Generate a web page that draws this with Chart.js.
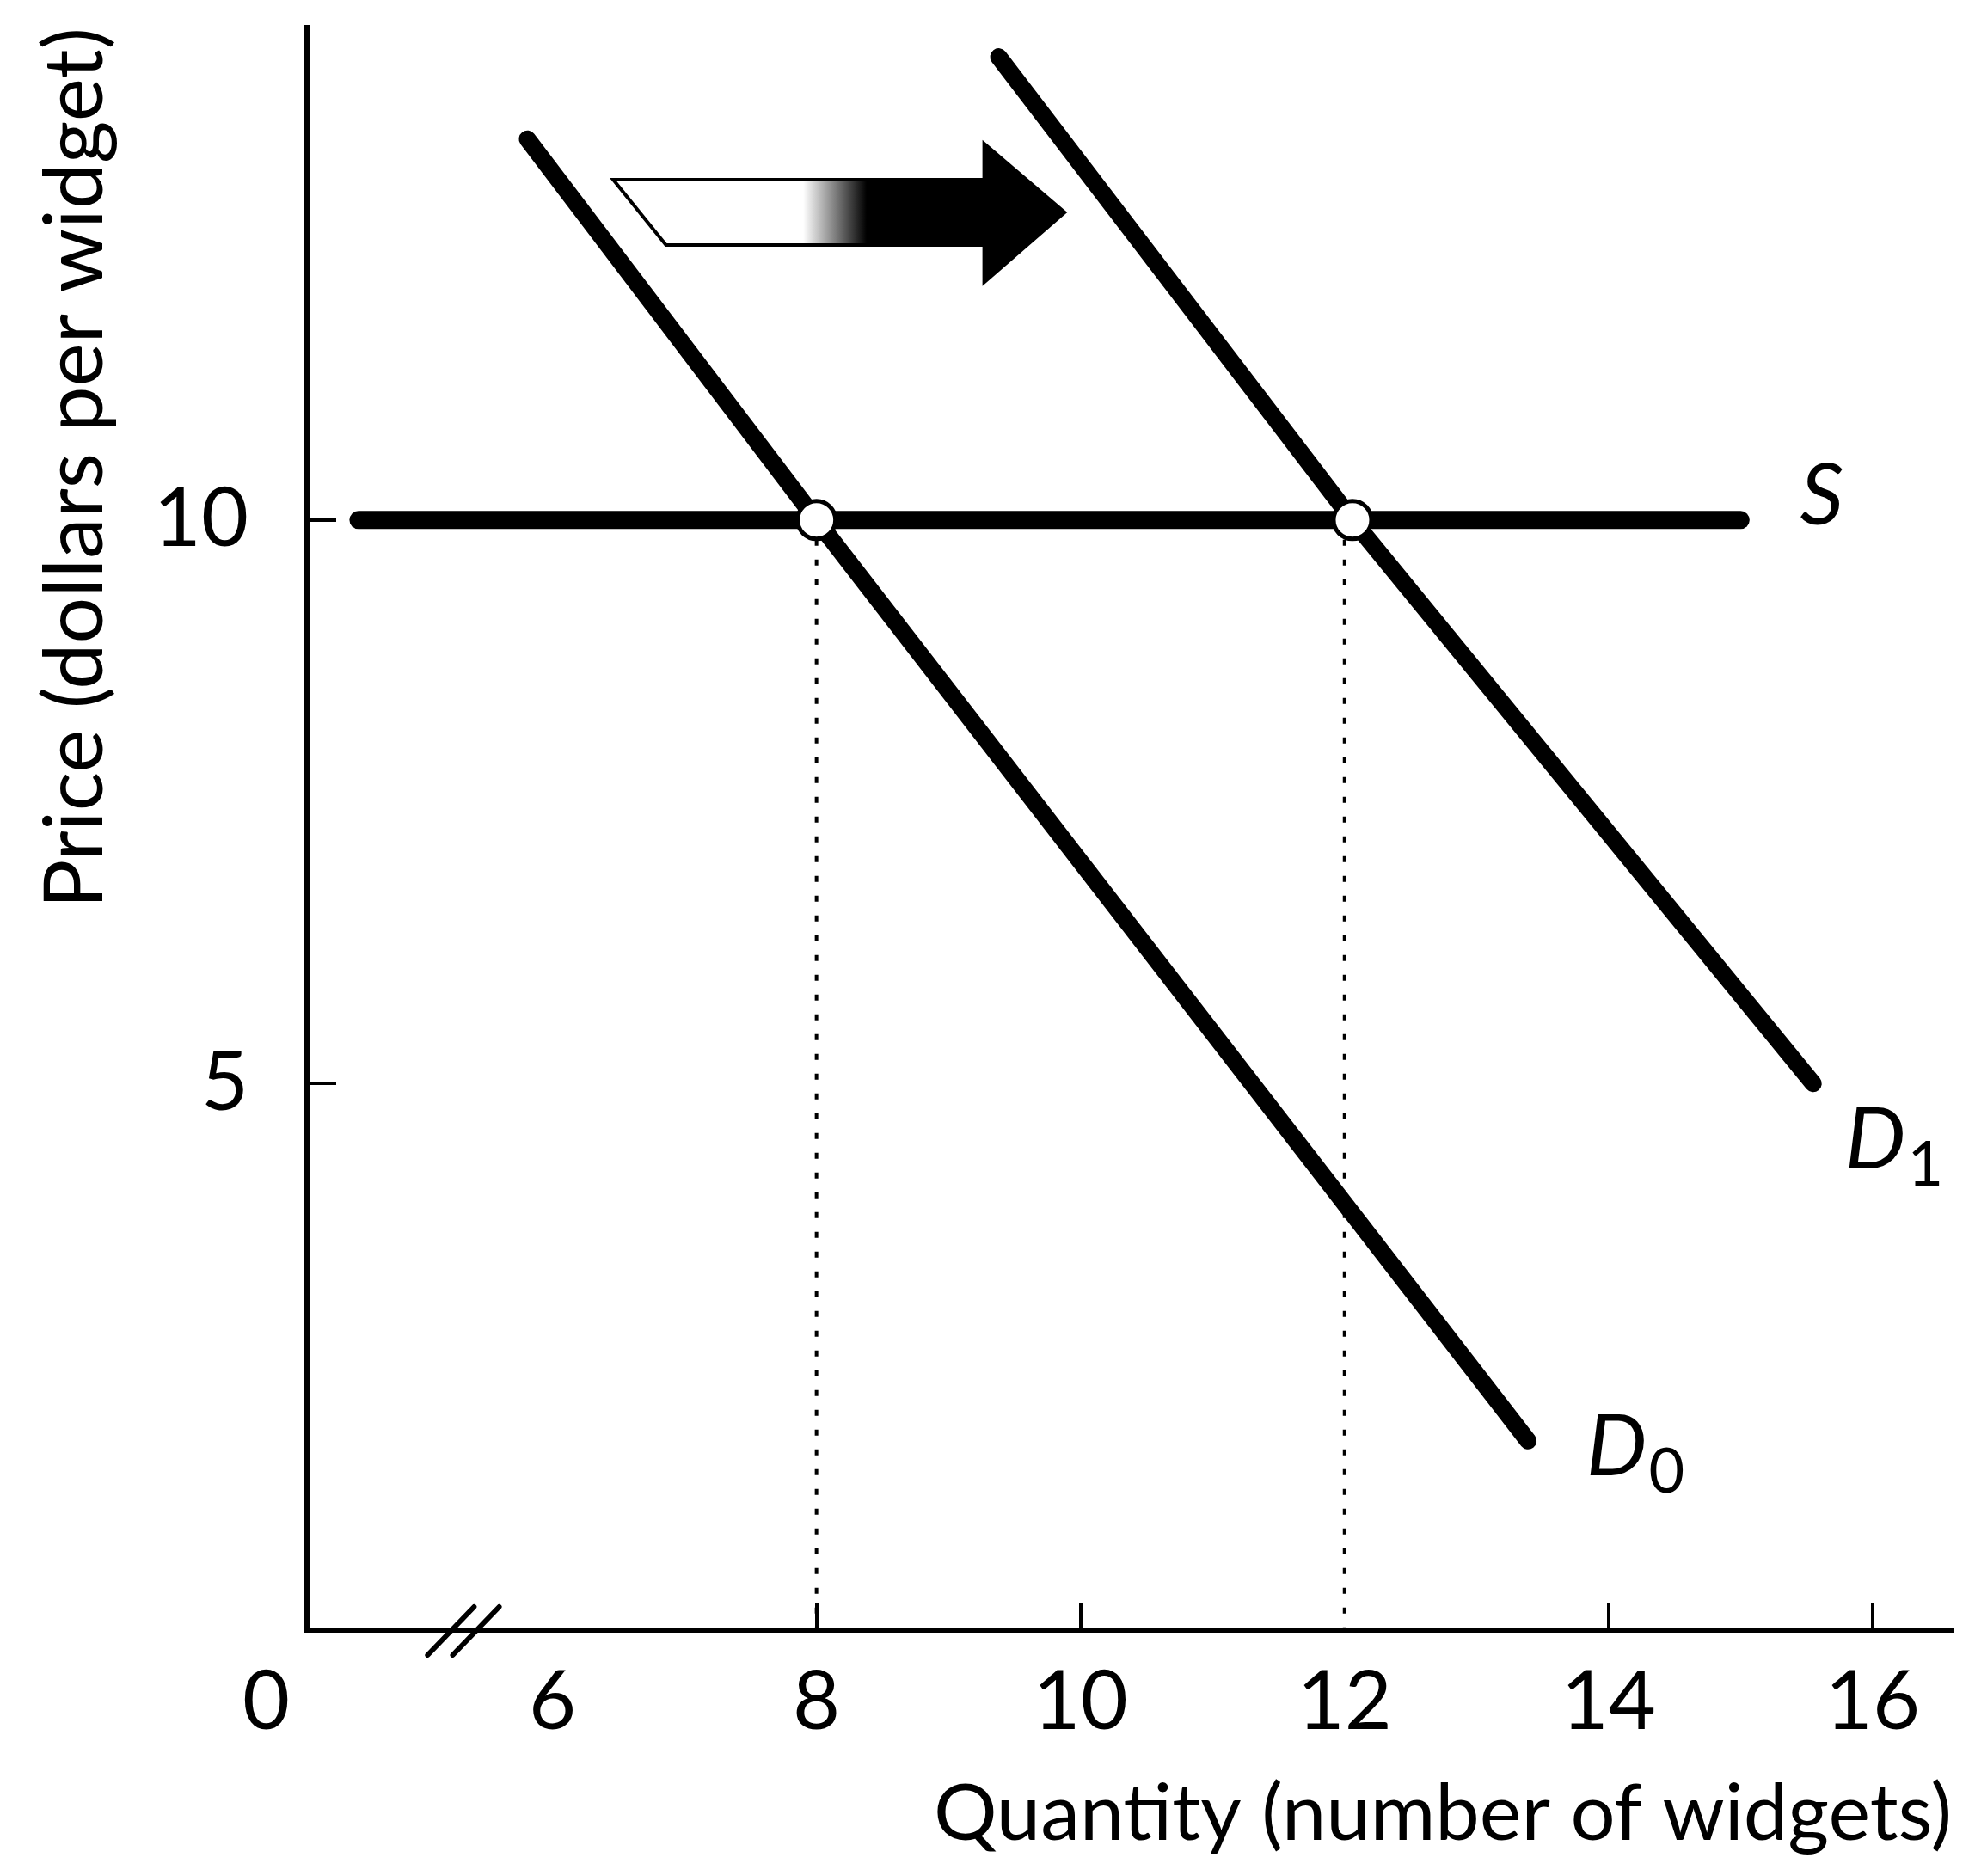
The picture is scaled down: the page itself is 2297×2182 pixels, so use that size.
<!DOCTYPE html>
<html>
<head>
<meta charset="utf-8">
<script src="https://cdn.jsdelivr.net/npm/chart.js@4.4.1/dist/chart.umd.min.js"></script>
<style>
  html, body { margin: 0; padding: 0; background: #fff; }
  canvas { display: block; }
</style>
</head>
<body>
<canvas id="chart" width="2297" height="2182"></canvas>
<script>
// axis ranges (the x axis is broken, its left end is labelled 0)
const xMin = 4.14
const xMax = 16.6
const yMin = 0.15
const yMax = 14.37
const xTicks = [6, 8, 10, 12, 14, 16]
const xTickMarks = [8, 10, 14, 16]
const yTicks = [5, 10]

// supply and the two demand curves
const supplyQ = [4.53, 15.0]
const supplyP = [10, 10]
const d0Q = [5.81, 8, 13.39]
const d0P = [13.38, 10, 1.83]
const d1Q = [9.38, 12.06, 15.55]
const d1P = [14.11, 10, 5.0]

// equilibria and the dotted drop lines
const eqQ = [8, 12.06]
const eqP = [10, 10]
const dropQ = [8, 12]

// the shift arrow, outline in data units
const arrowQ = [6.46, 9.27, 9.27, 9.88, 9.27, 9.27, 6.86]
const arrowP = [13.02, 13.02, 13.34, 12.73, 12.11, 12.44, 12.44]
const arrowFade = [7.9, 8.38]

// curve labels (left edge, baseline)
const labelText = ['S', 'D', 'D']
const labelSub = ['', '1', '0']
const labelQ = [15.45, 15.79, 13.83]
const labelP = [9.96, 4.25, 1.52]

const toPoints = (xs, ys) => xs.map((x, i) => ({ x: x, y: ys[i] }))

Chart.defaults.font.family = 'Lato'
Chart.defaults.color = '#000'

// keep the tick labels from pushing the plot area around
const noScalePadding = scale => {
  scale.paddingTop = 0
  scale.paddingBottom = 0
  scale.paddingLeft = 0
  scale.paddingRight = 0
}

const extras = {
  id: 'extras',
  afterDatasetsDraw(chart) {
    const { ctx, scales: { x, y } } = chart
    ctx.save()

    // arrow: white with an outline at the tail, fading to solid black
    const g = ctx.createLinearGradient(x.getPixelForValue(arrowFade[0]), 0, x.getPixelForValue(arrowFade[1]), 0)
    g.addColorStop(0, '#fff')
    g.addColorStop(1, '#000')
    ctx.beginPath()
    arrowQ.forEach((q, i) => {
      const px = x.getPixelForValue(q)
      const py = y.getPixelForValue(arrowP[i])
      if (i === 0) ctx.moveTo(px, py)
      else ctx.lineTo(px, py)
    })
    ctx.closePath()
    ctx.fillStyle = g
    ctx.fill()
    ctx.lineWidth = 4
    ctx.lineJoin = 'miter'
    ctx.strokeStyle = '#000'
    ctx.stroke()

    // curve labels
    ctx.fillStyle = '#000'
    ctx.textBaseline = 'alphabetic'
    ctx.textAlign = 'left'
    labelText.forEach((t, i) => {
      const px = x.getPixelForValue(labelQ[i])
      const py = y.getPixelForValue(labelP[i])
      ctx.font = 'italic 100px Lato'
      ctx.fillText(t, px, py)
      if (labelSub[i]) {
        const w = ctx.measureText(t).width
        ctx.font = '72px Lato'
        ctx.fillText(labelSub[i], px + w + 2, py + 20)
      }
    })
    ctx.restore()
  },
  afterDraw(chart) {
    // axis break marks
    const { ctx, scales: { x } } = chart
    const base = chart.chartArea.bottom
    ctx.save()
    ctx.strokeStyle = '#000'
    ctx.lineWidth = 6
    ctx.lineCap = 'round'
    ;[5.23, 5.42].forEach(q => {
      const px = x.getPixelForValue(q)
      ctx.beginPath()
      ctx.moveTo(px - 27, base + 29)
      ctx.lineTo(px + 27, base - 27)
      ctx.stroke()
    })
    ctx.restore()
  }
}

new Chart(document.getElementById('chart'), {
  type: 'scatter',
  data: {
    datasets: [
      {
        label: 'Equilibrium',
        data: toPoints(eqQ, eqP),
        pointRadius: 22,
        pointBorderWidth: 5,
        pointBackgroundColor: '#fff',
        pointBorderColor: '#000',
        order: 0
      },
      {
        label: 'S',
        data: toPoints(supplyQ, supplyP),
        showLine: true,
        borderColor: '#000',
        borderWidth: 21,
        borderCapStyle: 'round',
        pointRadius: 0,
        order: 1
      },
      {
        label: 'D0',
        data: toPoints(d0Q, d0P),
        showLine: true,
        borderColor: '#000',
        borderWidth: 20,
        borderCapStyle: 'round',
        pointRadius: 0,
        order: 1
      },
      {
        label: 'D1',
        data: toPoints(d1Q, d1P),
        showLine: true,
        borderColor: '#000',
        borderWidth: 20,
        borderCapStyle: 'round',
        pointRadius: 0,
        order: 1
      },
      ...dropQ.map(q => ({
        label: 'drop ' + q,
        data: [{ x: q, y: 10 }, { x: q, y: yMin }],
        showLine: true,
        borderColor: '#000',
        borderWidth: 4,
        borderDash: [7, 16],
        borderCapStyle: 'butt',
        pointRadius: 0,
        order: 2
      }))
    ]
  },
  options: {
    responsive: false,
    animation: false,
    events: [],
    layout: { padding: { top: 32, right: 10, left: 0, bottom: 0 } },
    plugins: {
      legend: { display: false },
      tooltip: { enabled: false }
    },
    scales: {
      x: {
        type: 'linear',
        min: xMin,
        max: xMax,
        afterBuildTicks: scale => {
          scale.ticks = [xMin, ...xTicks].map(v => ({ value: v }))
        },
        afterFit: scale => {
          scale.height = 286
          noScalePadding(scale)
        },
        ticks: {
          font: { size: 95 },
          padding: 59,
          maxRotation: 0,
          autoSkip: false,
          callback: v => (v === xMin ? '0\u2002\u2002' : String(v))
        },
        grid: {
          drawOnChartArea: false,
          drawTicks: true,
          tickLength: -32,
          lineWidth: 4,
          color: ctx => (ctx.tick && xTickMarks.includes(ctx.tick.value) ? '#000' : 'rgba(0,0,0,0)')
        },
        border: { display: true, color: '#000', width: 6 },
        title: {
          display: true,
          text: 'Quantity (number of widgets)',
          align: 'end',
          font: { size: 92 },
          padding: { top: 0, bottom: 16 }
        }
      },
      y: {
        type: 'linear',
        min: yMin,
        max: yMax,
        afterBuildTicks: scale => {
          scale.ticks = yTicks.map(v => ({ value: v }))
        },
        afterFit: scale => {
          scale.width = 357
          noScalePadding(scale)
        },
        ticks: {
          font: { size: 95 },
          padding: 102
        },
        grid: {
          drawOnChartArea: false,
          drawTicks: true,
          tickLength: -34,
          lineWidth: 4,
          color: '#000'
        },
        border: { display: true, color: '#000', width: 6 },
        title: {
          display: true,
          text: 'Price (dollars per widget)',
          align: 'end',
          font: { size: 95 },
          padding: { top: 31, bottom: 0 }
        }
      }
    }
  },
  plugins: [extras]
})
</script>
</body>
</html>
